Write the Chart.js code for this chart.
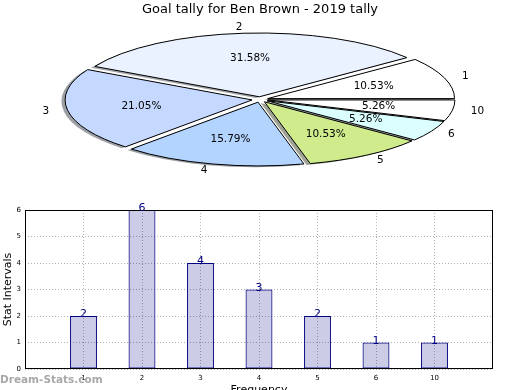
<!DOCTYPE html>
<html><head><meta charset="utf-8">
<script src="https://cdn.jsdelivr.net/npm/chart.js@4"></script>
<style>
html,body{margin:0;padding:0;background:#fff;overflow:hidden;width:520px;height:390px;}
#pie{position:absolute;left:0;top:0;}
#bar{position:absolute;left:0;top:200px;}
</style></head><body>
<canvas id="pie" width="520" height="200"></canvas>
<canvas id="bar" width="520" height="200"></canvas>
<script>
// ---- data ----
const categories = ['1','2','3','4','5','6','10'];
const counts = [2,6,4,3,2,1,1];
const sliceColors = ['#ffffff','#eaf2ff','#c5d8ff','#b3d4ff','#cfeb8c','#dbffff','#ffffff'];
const yTicks = [0,1,2,3,4,5,6];
const chartTitle = 'Goal tally for Ben Brown - 2019 tally';
const xTitle = 'Frequency';
const yTitle = 'Stat Intervals';
const watermark = 'Dream-Stats.com';

const FONT = "'DejaVu Sans', sans-serif";
const total = counts.reduce((a,b)=>a+b,0);

// pie drawn counter-clockwise from 3 o'clock (matplotlib style): reverse for Chart.js clockwise
const pieLabels = categories.slice().reverse();
const pieData = counts.slice().reverse();
const pieCols = sliceColors.slice().reverse();

const PIE = {cx:260, cy:99.5, sy:0.341, explode:8, shDx:-3.7, shDy:1.3};

function shadowColor(hex){
  const n=parseInt(hex.slice(1),16);
  const r=(n>>16)&255,g=(n>>8)&255,b=n&255;
  return `rgba(${Math.round(r*0.3)},${Math.round(g*0.3)},${Math.round(b*0.3)},0.5)`;
}

const piePlugin = {
  id:'ellipsePie',
  beforeDatasetDraw(chart,args){
    const ctx = chart.ctx, meta = args.meta, arcs = meta.data;
    if(!arcs.length) return false;
    const a0 = arcs[0];
    ctx.save();
    ctx.translate(PIE.cx, PIE.cy); ctx.scale(1, PIE.sy); ctx.translate(-a0.x, -a0.y);
    const origStroke = CanvasRenderingContext2D.prototype.stroke;
    ctx.stroke = function(){ this.save(); this.setTransform(1,0,0,1,0,0); origStroke.apply(this, arguments); this.restore(); };
    // shadows first
    arcs.forEach((arc,i)=>{
      const half=(arc.startAngle+arc.endAngle)/2;
      const o=arc.options;
      const sc=shadowColor(pieCols[i]);
      arc.options = Object.assign({}, o, {backgroundColor:sc, borderColor:sc, borderWidth:0});
      ctx.save();
      ctx.translate(Math.cos(half)*PIE.explode + PIE.shDx, Math.sin(half)*PIE.explode + PIE.shDy/PIE.sy);
      arc.draw(ctx);
      ctx.restore();
      arc.options = o;
    });
    // wedges
    arcs.forEach((arc)=>{
      const half=(arc.startAngle+arc.endAngle)/2;
      ctx.save();
      ctx.translate(Math.cos(half)*PIE.explode, Math.sin(half)*PIE.explode);
      arc.draw(ctx);
      ctx.restore();
    });
    delete ctx.stroke;
    ctx.restore();
    // labels
    ctx.save();
    ctx.fillStyle='#000';
    ctx.font = `10.5px ${FONT}`;
    ctx.textBaseline='middle';
    arcs.forEach((arc,i)=>{
      const half=(arc.startAngle+arc.endAngle)/2;
      const c=Math.cos(half), s=Math.sin(half), R=arc.outerRadius;
      const rp=0.6*R+PIE.explode;
      ctx.textAlign='center';
      ctx.fillText((pieData[i]/total*100).toFixed(2)+'%', PIE.cx+rp*c, PIE.cy+PIE.sy*rp*s);
      const rl=1.1*R+PIE.explode;
      ctx.textAlign = c>0 ? 'left' : 'right';
      ctx.fillText(pieLabels[i], PIE.cx+rl*c, PIE.cy+PIE.sy*rl*s);
    });
    ctx.restore();
    return false;
  }
};

new Chart(document.getElementById('pie'), {
  type:'pie',
  data:{labels:pieLabels, datasets:[{data:pieData, backgroundColor:pieCols, borderColor:'#000', borderWidth:1}]},
  options:{
    responsive:false, animation:false, events:[],
    rotation:90, radius:187,
    layout:{padding:0},
    plugins:{
      legend:{display:false}, tooltip:{enabled:false},
      title:{display:true, text:chartTitle, color:'#000', font:{family:FONT, size:13, weight:'normal'}, padding:{top:2,bottom:0}}
    }
  },
  plugins:[piePlugin]
});

// ---- bar chart ----
const barPlugin = {
  id:'barExtras',
  afterDraw(chart){
    const ctx=chart.ctx, a=chart.chartArea;
    ctx.save();
    ctx.strokeStyle='#000'; ctx.lineWidth=1;
    ctx.strokeRect(Math.round(a.left)+0.5, Math.round(a.top)+0.5, Math.round(a.right-a.left)-1, Math.round(a.bottom-a.top)-1);
    const meta=chart.getDatasetMeta(0);
    ctx.fillStyle='#000080';
    ctx.font=`11px ${FONT}`;
    ctx.textAlign='center'; ctx.textBaseline='alphabetic';
    meta.data.forEach((bar,i)=>{
      ctx.fillText(String(counts[i]), bar.x, bar.y+1);
    });
    ctx.fillStyle='#a8a8a8';
    ctx.font=`bold 10.5px ${FONT}`;
    ctx.textAlign='left'; ctx.textBaseline='middle';
    ctx.fillText(watermark, 0, 180);
    ctx.restore();
  }
};

const gridOpts = {color:'#b0b0b0', drawTicks:false, offset:false, borderDash:[1,2]};
new Chart(document.getElementById('bar'), {
  type:'bar',
  data:{datasets:[{
    data: categories.map((c,i)=>({x:i+1, y:counts[i]})),
    backgroundColor:'rgba(0,0,128,0.2)', borderColor:'#000080', borderWidth:1, borderSkipped:false,
    barPercentage:0.46, categoryPercentage:1
  }]},
  options:{
    responsive:false, animation:false, events:[],
    layout:{padding:{left:0,right:27,top:10,bottom:0}},
    plugins:{legend:{display:false}, tooltip:{enabled:false}},
    scales:{
      x:{
        type:'linear', min:0, max:categories.length+1, offset:false,
        afterBuildTicks(s){ s.ticks = categories.map((c,i)=>({value:i+1})); },
        ticks:{autoSkip:false, maxRotation:0, padding:5, color:'#000', font:{family:FONT,size:7},
          callback:(v)=>categories[v-1] ?? ''},
        grid:gridOpts,
        border:{display:false, dash:[1,2]},
        title:{display:true, text:xTitle, color:'#000', font:{family:FONT,size:11}, padding:{top:0,bottom:3}},
        afterFit(s){ s.height=31; }
      },
      y:{
        min:0, max:6,
        afterBuildTicks(s){ s.ticks = yTicks.map(v=>({value:v})); },
        ticks:{padding:4, color:'#000', font:{family:FONT,size:7}},
        grid:gridOpts,
        border:{display:false, dash:[1,2]},
        title:{display:true, text:yTitle, color:'#000', font:{family:FONT,size:11}, padding:{top:2,bottom:0}},
        afterFit(s){ s.width=25; }
      }
    }
  },
  plugins:[barPlugin]
});
</script>
</body></html>
